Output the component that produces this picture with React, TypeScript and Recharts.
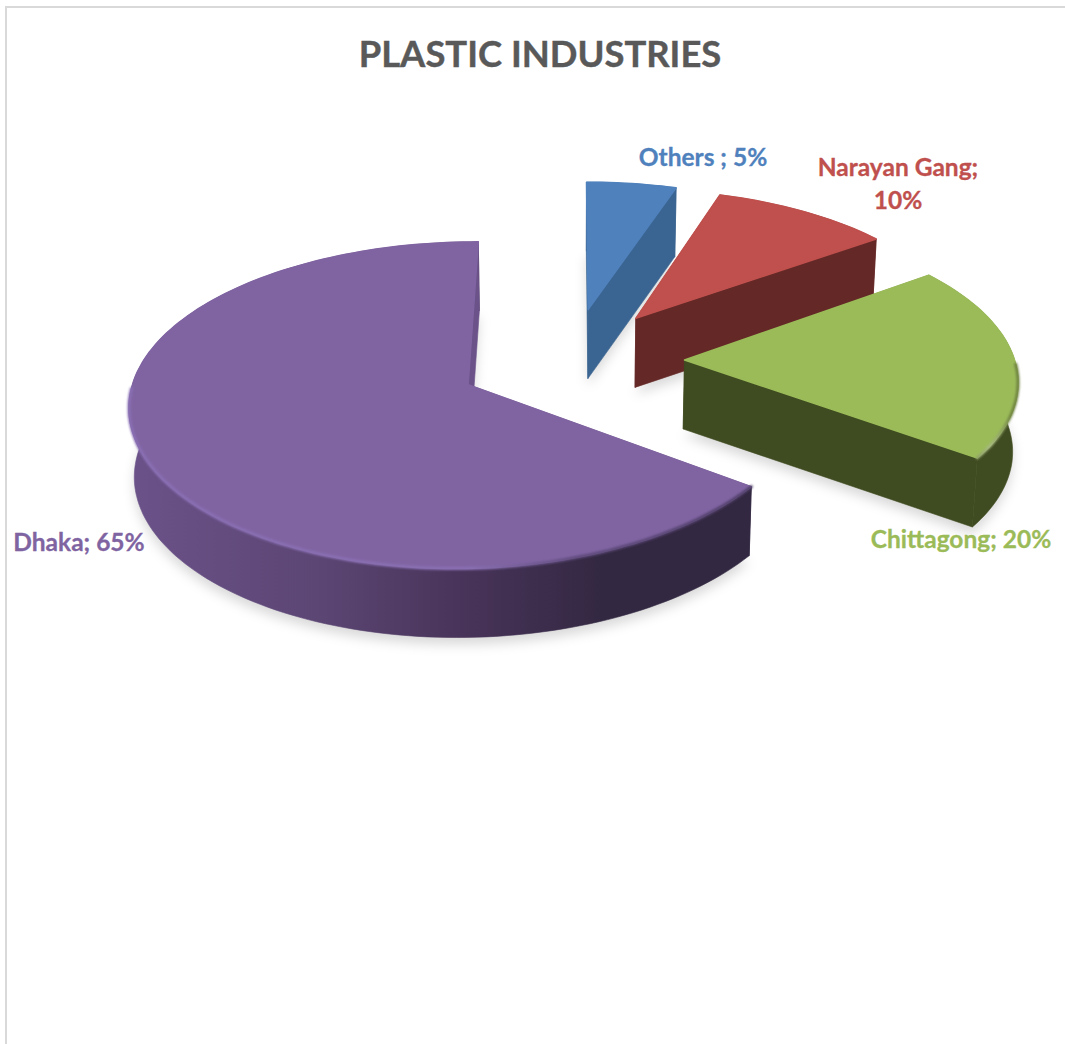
import React from 'react';
import { PieChart, Pie } from 'recharts';

const sliceNames = ['Others ', 'Narayan Gang', 'Chittagong', 'Dhaka'];
const sliceShares = [5, 10, 20, 65];
const topColors = ['#4F81BD', '#C0504D', '#9BBB59', '#8064A2'];
const wallColors = ['#3A6491', '#642927', '#3F4B20', 'url(#wallDhaka)'];
const chartTitle = 'PLASTIC INDUSTRIES';

const data = sliceNames.map((name, i) => ({ name, value: sliceShares[i], fill: topColors[i], wall: wallColors[i] }));

// label centres, and the line breaks Excel put in the narrow one
const labelSpots: Record<string, { x: number; y: number }> = {
  'Others ': { x: 703, y: 166 },
  'Narayan Gang': { x: 898, y: 176 },
  Chittagong: { x: 961, y: 548 },
  Dhaka: { x: 79, y: 551 },
};

const PIE_CX = 571;
const PIE_CY = 360;
const RADIUS = 330;
const TILT = 0.4686; // squash of the pie plane
const PERSPECTIVE_X = 0.108;
const PERSPECTIVE_Y = 0.1233;
const EXPLODE = 0.344;
const DEPTH = 69;
const FOOT_SHRINK = 0.012; // bottom face is a little narrower than the top

const RAD = Math.PI / 180;

function project(px: number, py: number, z = 0) {
  const x = PIE_CX + (px * RADIUS) / (1 - PERSPECTIVE_X * py);
  const y = PIE_CY + (py * RADIUS * TILT) / (1 - PERSPECTIVE_Y * py);
  return { x: PIE_CX + (x - PIE_CX) * (1 - FOOT_SHRINK * z), y: y + DEPTH * z };
}

const toPath = (pts: { x: number; y: number }[], close = true) =>
  pts.map((p, i) => `${i ? 'L' : 'M'}${p.x.toFixed(1)} ${p.y.toFixed(1)}`).join(' ') + (close ? ' Z' : '');

// Pie hands over the sector angles, the 3D wedge gets built from those
function Slice3D(props: any) {
  const { startAngle, endAngle, fill, payload } = props;
  const mid = ((startAngle + endAngle) / 2) * RAD;
  const ox = Math.cos(mid) * EXPLODE;
  const oy = -Math.sin(mid) * EXPLODE;

  const angles: number[] = [];
  const steps = Math.ceil(Math.abs(endAngle - startAngle) / 1.5);
  for (let i = 0; i <= steps; i++) angles.push((startAngle + ((endAngle - startAngle) * i) / steps) * RAD);

  const rim = (z: number) => angles.map((a) => project(ox + Math.cos(a), oy - Math.sin(a), z));
  const apexTop = project(ox, oy, 0);
  const apexFoot = project(ox, oy, 1);
  const top = rim(0);
  const foot = rim(1);
  const last = top.length - 1;

  const frontEdge = angles
    .filter((a) => -Math.sin(a) > 0.02)
    .map((a) => project(ox + Math.cos(a), oy - Math.sin(a), 0));

  const rimStroke = payload.name === 'Dhaka' ? 'url(#rimDhaka)' : payload.name === 'Chittagong' ? 'url(#rimChittagong)' : null;

  return (
    <g>
      <path d={toPath([apexFoot, ...foot])} transform="translate(0 7)" fill="#000" fillOpacity={0.15} filter="url(#floorBlur)" />
      <path d={toPath([...top, ...[...foot].reverse()])} fill={payload.wall} stroke={payload.wall} strokeWidth={0.6} />
      <path d={toPath([apexTop, top[0], foot[0], apexFoot])} fill={payload.wall} stroke={payload.wall} strokeWidth={0.6} />
      <path
        d={toPath([apexTop, top[last], foot[last], apexFoot])}
        fill={payload.name === 'Dhaka' ? '#6B5289' : payload.wall}
        stroke={payload.name === 'Dhaka' ? '#6B5289' : payload.wall}
        strokeWidth={0.6}
      />
      <path d={toPath([apexTop, ...top])} fill={fill} stroke={fill} strokeWidth={1.5} strokeLinejoin="round" />
      {rimStroke && frontEdge.length > 1 && (
        <path d={toPath(frontEdge, false)} fill="none" stroke={rimStroke} strokeWidth={3} strokeLinecap="round" filter="url(#rimBlur)" />
      )}
    </g>
  );
}

function SliceLabel(props: any) {
  const { name, value, fill } = props;
  const spot = labelSpots[name];
  const style = { fontFamily: 'Lato', fontWeight: 700, fontSize: 24.5 };
  if (name === 'Narayan Gang') {
    return (
      <text textAnchor="middle" fill={fill} stroke={fill} strokeWidth={0.3} style={style}>
        <tspan x={spot.x} y={spot.y}>{`${name};`}</tspan>
        <tspan x={spot.x} y={spot.y + 33}>{`${value}%`}</tspan>
      </text>
    );
  }
  return (
    <text x={spot.x} y={spot.y} textAnchor="middle" fill={fill} stroke={fill} strokeWidth={0.3} style={style}>
      {`${name}; ${value}%`}
    </text>
  );
}

export default function App() {
  return (
    <div style={{ position: 'absolute', left: 0, top: 0, width: 1065, height: 1044, background: '#fff' }}>
      <div style={{ position: 'absolute', left: 5, top: 6, right: 0, bottom: 0, borderLeft: '2px solid #D9D9D9', borderTop: '2px solid #D9D9D9' }} />
      <div style={{ position: 'absolute', left: 0, top: 0 }}>
        <PieChart width={1065} height={1044} margin={{ top: 0, right: 0, bottom: 0, left: 0 }}>
          <defs>
            <linearGradient id="wallDhaka" x1="0" y1="0" x2="1" y2="0">
              <stop offset="0%" stopColor="#6B5289" />
              <stop offset="30%" stopColor="#5C4674" />
              <stop offset="55%" stopColor="#473358" />
              <stop offset="76%" stopColor="#332842" />
              <stop offset="100%" stopColor="#332842" />
            </linearGradient>
            <linearGradient id="rimDhaka" gradientUnits="userSpaceOnUse" x1="127" y1="0" x2="752" y2="0">
              <stop offset="0%" stopColor="#8A70B5" />
              <stop offset="55%" stopColor="#8A70B3" />
              <stop offset="72%" stopColor="#5E4A7A" />
              <stop offset="100%" stopColor="#4F3F68" />
            </linearGradient>
            <linearGradient id="rimChittagong" gradientUnits="userSpaceOnUse" x1="0" y1="340" x2="0" y2="465">
              <stop offset="0%" stopColor="#6E8240" />
              <stop offset="60%" stopColor="#6E8240" />
              <stop offset="85%" stopColor="#A9BB83" />
              <stop offset="100%" stopColor="#7C8C58" />
            </linearGradient>
            <filter id="floorBlur" filterUnits="userSpaceOnUse" x="0" y="0" width="1065" height="1044">
              <feGaussianBlur stdDeviation="6" />
            </filter>
            <filter id="rimBlur" filterUnits="userSpaceOnUse" x="0" y="0" width="1065" height="1044">
              <feGaussianBlur stdDeviation="1" />
            </filter>
          </defs>
          <text x={540} y={67} textAnchor="middle" fill="#595959" stroke="#595959" strokeWidth={0.4} style={{ fontFamily: 'Lato', fontWeight: 700, fontSize: 36.4 }}>
            {chartTitle}
          </text>
          <Pie
            data={data}
            dataKey="value"
            nameKey="name"
            cx={PIE_CX}
            cy={PIE_CY}
            innerRadius={0}
            outerRadius={RADIUS}
            startAngle={90}
            endAngle={-270}
            paddingAngle={0}
            stroke="none"
            isAnimationActive={false}
            shape={Slice3D}
            label={SliceLabel}
            labelLine={false}
          />
        </PieChart>
      </div>
    </div>
  );
}
